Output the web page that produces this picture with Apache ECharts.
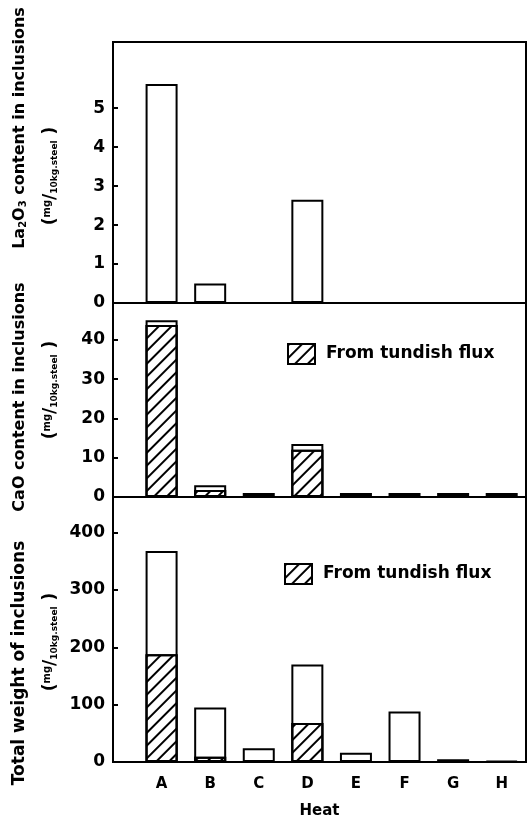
<!DOCTYPE html>
<html>
<head>
<meta charset="utf-8">
<script src="https://cdn.jsdelivr.net/npm/echarts@6/dist/echarts.min.js"></script>
<style>
  html, body { margin: 0; padding: 0; background: #fff; }
  #chart { width: 528px; height: 820px; }
</style>
</head>
<body>
<div id="chart"></div>
<script>
// heats along the x axis
var heats = ['A', 'B', 'C', 'D', 'E', 'F', 'G', 'H'];

// La2O3 content (mg/10kg steel)
var la2o3 = [5.62, 0.5, null, 2.65, null, null, null, null];

// CaO content: total and part from tundish flux
var caoTotal = [45, 3, 1, 13.5, 1, 1, 1, 1];
var caoFlux = [43.8, 1.8, null, 12, null, null, null, null];

// total weight of inclusions: total and part from tundish flux
var weightTotal = [368, 95, 24, 170, 16, 88, 5, 2];
var weightFlux = [188, 9, null, 68, null, null, null, null];

var yTicksLa = [0, 1, 2, 3, 4, 5];
var yTicksCao = [0, 10, 20, 30, 40];
var yTicksWeight = [0, 100, 200, 300, 400];

function pairs(arr) {
    var out = [];
    arr.forEach(function (v, i) {
        if (v !== null) out.push([i, v]);
    });
    return out;
}

var echart = echarts.init(document.getElementById('chart'));

var font = 'DejaVu Sans';
var hatch = {
    symbol: 'rect',
    symbolSize: 1,
    color: '#000',
    dashArrayX: [1, 0],
    dashArrayY: [2, 7],
    rotation: -Math.PI / 4
};

var grids = [
    { left: 113, right: 2, top: 42, height: 261 },
    { left: 113, right: 2, top: 303, height: 194 },
    { left: 113, right: 2, top: 497, height: 268 }
];
grids.forEach(function (g) {
    g.show = true;
    g.borderColor = '#000';
    g.borderWidth = 2;
    g.backgroundColor = 'transparent';
});

function xAxisFor(i, labels) {
    return {
        type: 'value',
        gridIndex: i,
        min: -1,
        max: 7.5,
        interval: 1,
        splitLine: { show: false },
        axisTick: { show: false },
        axisLine: { show: true, onZero: false, lineStyle: { color: '#000', width: 2 } },
        axisLabel: {
            show: labels,
            customValues: [0, 1, 2, 3, 4, 5, 6, 7],
            formatter: function (v) { return heats[v] || ''; },
            color: '#000',
            fontFamily: font,
            fontWeight: 'bold',
            fontSize: 15,
            margin: 15
        },
        name: labels ? 'Heat' : '',
        nameLocation: 'middle',
        nameGap: 42,
        nameTextStyle: { color: '#000', fontFamily: font, fontWeight: 'bold', fontSize: 15 }
    };
}

function yAxisFor(i, max, ticks) {
    return {
        type: 'value',
        gridIndex: i,
        min: 0,
        max: max,
        splitLine: { show: false },
        axisLine: { show: true, onZero: false, lineStyle: { color: '#000', width: 2 } },
        axisTick: {
            show: true, inside: true, length: 5,
            customValues: ticks,
            lineStyle: { color: '#000', width: 2 }
        },
        axisLabel: {
            customValues: ticks,
            color: '#000',
            fontFamily: font,
            fontWeight: 'bold',
            fontSize: 17,
            margin: 8
        }
    };
}

var plainBar = {
    type: 'bar',
    barWidth: 32,
    barGap: '-100%',
    itemStyle: { color: '#fff', borderColor: '#000', borderWidth: 2 },
    silent: true
};
var fluxBar = {
    type: 'bar',
    name: 'From tundish flux',
    barWidth: 32,
    barGap: '-100%',
    itemStyle: { color: '#fff', borderColor: '#000', borderWidth: 2, decal: hatch },
    silent: true
};

var unitRich = {
    p: { fontSize: 17, fontFamily: font, fontWeight: 'bold' },
    a: { fontSize: 10, fontFamily: font, fontWeight: 'bold', padding: [0, 0, 8, 0] },
    b: { fontSize: 9, fontFamily: font, fontWeight: 'bold', padding: [8, 0, 0, 0] }
};
var unitText = '{p|(}{a|mg}{p|/}{b|10kg.steel}{p| )}';

function sideTitle(x, y, text, size, rich) {
    return {
        type: 'text',
        x: x,
        y: y,
        rotation: Math.PI / 2,
        silent: true,
        style: {
            text: text,
            rich: rich,
            fill: '#000',
            fontFamily: font,
            fontWeight: 'bold',
            fontSize: size,
            align: 'center',
            verticalAlign: 'middle'
        }
    };
}

function legendAt(left, top) {
    return {
        data: ['From tundish flux'],
        left: left, top: top,
        padding: 0,
        itemWidth: 27, itemHeight: 20,
        selectedMode: false,
        icon: 'rect',
        itemStyle: { borderColor: '#000', borderWidth: 2 },
        textStyle: { color: '#000', fontFamily: font, fontWeight: 'bold', fontSize: 17, padding: [0, 0, 0, 6] }
    };
}

var option = {
    animation: false,
    textStyle: { fontFamily: font },
    grid: grids,
    xAxis: [xAxisFor(0, false), xAxisFor(1, false), xAxisFor(2, true)],
    yAxis: [
        yAxisFor(0, 6.7, yTicksLa),
        yAxisFor(1, 49.4, yTicksCao),
        yAxisFor(2, 462, yTicksWeight)
    ],
    legend: [legendAt(287, 343), legendAt(284, 563)],
    series: [
        Object.assign({}, plainBar, { name: 'La2O3', xAxisIndex: 0, yAxisIndex: 0, data: pairs(la2o3) }),
        Object.assign({}, plainBar, { name: 'CaO', xAxisIndex: 1, yAxisIndex: 1, data: pairs(caoTotal) }),
        Object.assign({}, fluxBar, { xAxisIndex: 1, yAxisIndex: 1, data: pairs(caoFlux) }),
        Object.assign({}, plainBar, { name: 'Total', xAxisIndex: 2, yAxisIndex: 2, data: pairs(weightTotal) }),
        Object.assign({}, fluxBar, { xAxisIndex: 2, yAxisIndex: 2, data: pairs(weightFlux) })
    ],
    graphic: [
        sideTitle(20, 128, '{p|La}{s|2}{p|O}{s|3}{p| content in inclusions}', 16, {
            p: { fontSize: 16, fontFamily: font, fontWeight: 'bold' },
            s: { fontSize: 10, fontFamily: font, fontWeight: 'bold', padding: [6, 0, 0, 0] }
        }),
        sideTitle(51, 176, unitText, 17, unitRich),
        sideTitle(20, 397, 'CaO content in inclusions', 16),
        sideTitle(51, 390, unitText, 17, unitRich),
        sideTitle(20, 663, 'Total weight of inclusions', 17),
        sideTitle(51, 642, unitText, 17, unitRich)
    ]
};
echart.setOption(option);
</script>
</body>
</html>
